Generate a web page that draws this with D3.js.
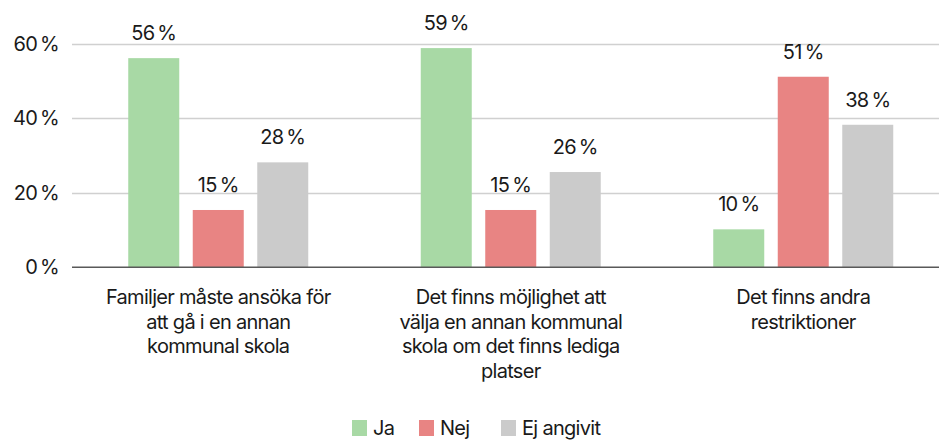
<!DOCTYPE html>
<html>
<head>
<meta charset="utf-8">
<script src="https://cdn.jsdelivr.net/npm/d3@7"></script>
<style>
  body { margin: 0; background: #fff; }
  svg text { font-family: Inter, "Noto Sans", sans-serif; fill: #1a1a1a; letter-spacing: -0.7px; }
</style>
</head>
<body>
<svg id="chart" width="939" height="440"></svg>
<script>
// data
const categories = [
    ["Familjer måste ansöka för", "att gå i en annan", "kommunal skola"],
    ["Det finns möjlighet att", "välja en annan kommunal", "skola om det finns lediga", "platser"],
    ["Det finns andra", "restriktioner"]
];
const seriesNames = ["Ja", "Nej", "Ej angivit"];
const seriesColors = ["#a8d9a5", "#e88483", "#cbcbcb"];
const jaValues = [56.2, 58.9, 10.2];
const nejValues = [15.4, 15.4, 51.2];
const ejValues = [28.2, 25.6, 38.3];
const yTicks = [0, 20, 40, 60];

const series = [jaValues, nejValues, ejValues];
const fontSize = "20px";
const pct = d => d + "\u2009%";

const svg = d3.select("#chart");
const margin = {top: 44, left: 72, bottom: 267.3, right: 949.5};

const x0 = d3.scaleBand()
    .domain(d3.range(categories.length))
    .range([margin.left, margin.right]);
const x1 = d3.scaleBand()
    .domain(d3.range(seriesNames.length))
    .range([0, 180])
    .paddingInner(13.5 / 64.5);
const groupOffset = (x0.bandwidth() - 180) / 2;

const y = d3.scaleLinear()
    .domain([0, 60])
    .range([margin.bottom, margin.top]);

// grid
svg.append("g")
    .selectAll("line")
    .data(yTicks.filter(d => d > 0))
    .join("line")
    .attr("x1", margin.left)
    .attr("x2", 939)
    .attr("y1", d => Math.round(y(d)) + 0.5)
    .attr("y2", d => Math.round(y(d)) + 0.5)
    .attr("stroke", "#d0d0d0")
    .attr("stroke-width", 1.3);

// y axis labels
const yAxis = svg.append("g")
    .attr("transform", `translate(${margin.left}, 0)`)
    .call(d3.axisLeft(y).tickValues(yTicks).tickSize(0).tickPadding(13).tickFormat(pct));
yAxis.select(".domain").remove();
yAxis.selectAll("text")
    .style("font-size", fontSize)
    .attr("fill", "#1a1a1a");

// bars
const groups = svg.append("g")
    .selectAll("g")
    .data(categories)
    .join("g")
    .attr("transform", (d, i) => `translate(${x0(i) + groupOffset}, 0)`);

groups.each(function (cat, ci) {
    const g = d3.select(this);
    series.forEach((vals, si) => {
        const v = vals[ci];
        g.append("rect")
            .attr("x", x1(si))
            .attr("width", x1.bandwidth())
            .attr("y", y(v))
            .attr("height", y(0) - y(v))
            .attr("fill", seriesColors[si]);
        g.append("text")
            .attr("x", x1(si) + x1.bandwidth() / 2)
            .attr("y", y(v) - 18)
            .attr("text-anchor", "middle")
            .style("font-size", fontSize)
            .text(pct(Math.round(v)));
    });
});

// x axis line
svg.append("line")
    .attr("x1", margin.left)
    .attr("x2", 939)
    .attr("y1", y(0))
    .attr("y2", y(0))
    .attr("stroke", "#595959")
    .attr("stroke-width", 1.5);

// category labels
groups.append("text")
    .attr("text-anchor", "middle")
    .style("font-size", fontSize)
    .selectAll("tspan")
    .data(d => d)
    .join("tspan")
    .attr("x", x0.bandwidth() / 2 - groupOffset)
    .attr("y", (d, i) => 304 + i * 24.6)
    .text(d => d);

// legend
const legendX = [352, 419, 501];
const legend = svg.append("g")
    .selectAll("g")
    .data(seriesNames)
    .join("g")
    .attr("transform", (d, i) => `translate(${legendX[i]}, 420)`);
legend.append("rect")
    .attr("width", 15)
    .attr("height", 16)
    .attr("fill", (d, i) => seriesColors[i]);
legend.append("text")
    .attr("x", 21)
    .attr("y", 15)
    .style("font-size", fontSize)
    .text(d => d);
</script>
</body>
</html>
